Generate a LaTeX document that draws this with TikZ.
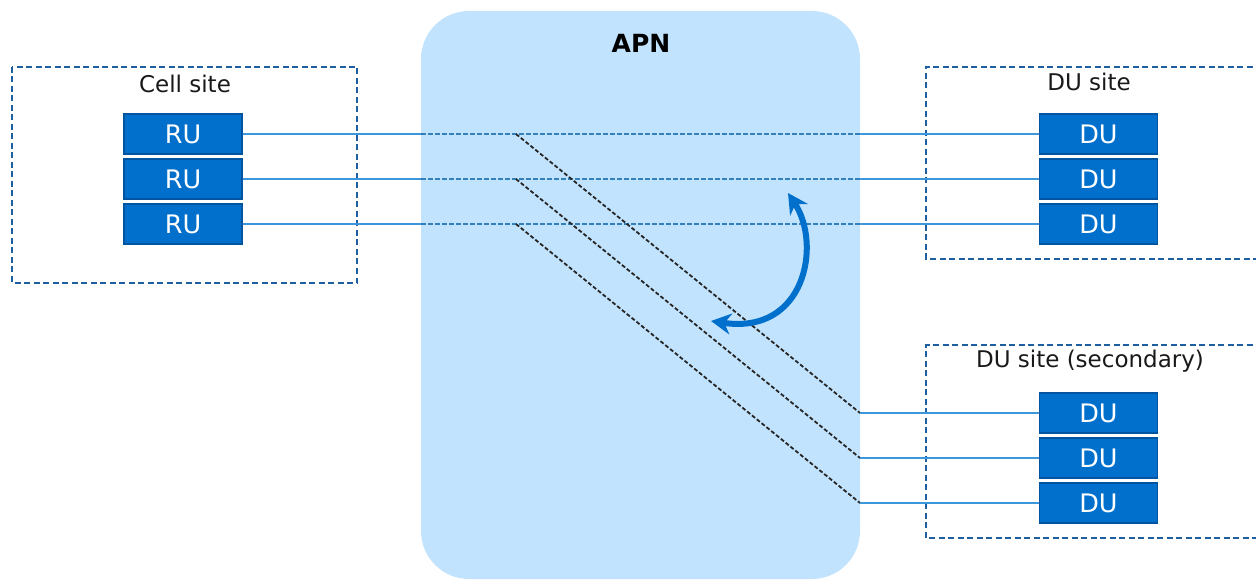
\documentclass[tikz,border=0pt]{standalone}
\usepackage{fontspec}
\setmainfont{DejaVu Sans}
\usetikzlibrary{arrows.meta}
\definecolor{boxblue}{RGB}{0,112,204}
\definecolor{boxedge}{RGB}{0,84,160}
\definecolor{apnfill}{RGB}{194,227,253}
\definecolor{sitedash}{RGB}{30,95,160}
\definecolor{linkblue}{RGB}{60,150,220}
\definecolor{arrowblue}{RGB}{0,112,204}
\tikzset{
  unit/.style={draw=boxedge, line width=1.4pt, fill=boxblue, minimum width=118pt, minimum height=40pt, inner sep=0pt, text=white, font=\fontsize{25.5}{26}\selectfont},
  sitebox/.style={draw=sitedash, line width=2pt, dash pattern=on 6pt off 3.5pt},
  sitelabel/.style={font=\fontsize{23}{24}\selectfont, text=black!90},
  link/.style={draw=linkblue, line width=1.4pt},
  apnlink/.style={draw=linkblue!85!black, line width=2pt, dash pattern=on 4.5pt off 2.5pt},
  cross/.style={draw=black!85, line width=1.8pt, dash pattern=on 4pt off 2.2pt},
}
\begin{document}
\begin{tikzpicture}[x=1pt,y=-1pt]
\useasboundingbox (0,0) rectangle (1256,580);
% site boxes
\draw[sitebox] (12,67) rectangle (357,283);
\draw[sitebox] (1262,67) -- (926,67) -- (926,259) -- (1262,259);
\draw[sitebox] (1262,345) -- (926,345) -- (926,538) -- (1262,538);
\node[sitelabel] (cell) at (185,84) {Cell site};
\node[sitelabel] (dusite) at (1089,82) {DU site};
\node[sitelabel] (dusec) at (1090,361) {DU site (secondary)};
% units
\node[unit] (ru1) at (183,134) {RU};
\node[unit] (ru2) at (183,179) {RU};
\node[unit] (ru3) at (183,224) {RU};
\node[unit] (du1) at (1098.5,134) {DU};
\node[unit] (du2) at (1098.5,179) {DU};
\node[unit] (du3) at (1098.5,224) {DU};
\node[unit] (du4) at (1098.5,413) {DU};
\node[unit] (du5) at (1098.5,458) {DU};
\node[unit] (du6) at (1098.5,503) {DU};
% solid links (APN covers the middle)
\draw[link] (ru1.east) -- (du1.west);
\draw[link] (ru2.east) -- (du2.west);
\draw[link] (ru3.east) -- (du3.west);
% APN
\fill[apnfill, rounded corners=48pt] (421,11) rectangle (860,579);
\node[font=\fontsize{25}{25}\selectfont\bfseries] (apn) at (641,43) {APN};
\coordinate (apnW) at (421,300);
\coordinate (apnE) at (860,300);
% dashed paths inside APN
\draw[apnlink] (apnW |- ru1.east) -- (apnE |- du1.west);
\draw[apnlink] (apnW |- ru2.east) -- (apnE |- du2.west);
\draw[apnlink] (apnW |- ru3.east) -- (apnE |- du3.west);
% secondary links
\coordinate (s1) at (516,134);
\coordinate (s2) at (516,179);
\coordinate (s3) at (516,224);
\draw[cross] (s1) -- (apnE |- du4.west);
\draw[cross] (s2) -- (apnE |- du5.west);
\draw[cross] (s3) -- (apnE |- du6.west);
\draw[link] (apnE |- du4.west) -- (du4.west);
\draw[link] (apnE |- du5.west) -- (du5.west);
\draw[link] (apnE |- du6.west) -- (du6.west);
% switch-over arrow
\coordinate (arrT) at (788,193);
\coordinate (arrB) at (711,321);
\draw[draw=arrowblue, line width=6pt, {Stealth[length=20pt,width=21pt]}-{Stealth[length=20pt,width=21pt]}]
  (arrT) .. controls (822,245) and (805,335) .. (arrB);
\end{tikzpicture}
\end{document}
